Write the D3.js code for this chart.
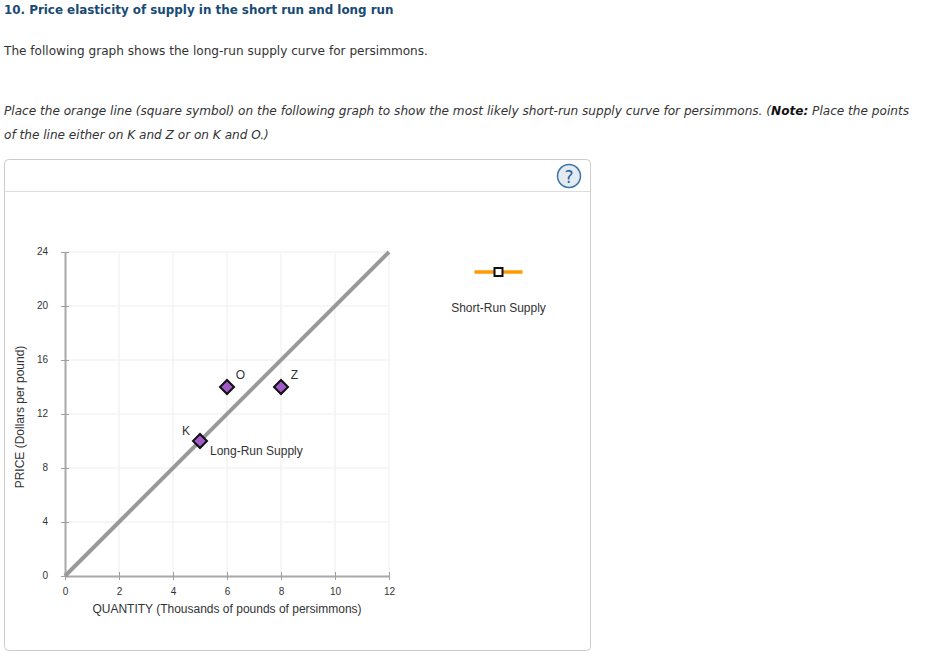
<!DOCTYPE html>
<meta charset="utf-8">
<style>
    html, body { margin: 0; padding: 0; background: #fff; }
    svg { display: block; }
    .page text { font-family: "DejaVu Sans", sans-serif; font-size: 12.1px; fill: #333; }
    .chart text { font-family: "Liberation Sans", sans-serif; fill: #333; }
    .note { font-size: 12px; }
</style>
<body>
<script src="https://d3js.org/d3.v7.min.js"></script>
<script>
    const xTicks = [0, 2, 4, 6, 8, 10, 12]
    const yTicks = [0, 4, 8, 12, 16, 20, 24]
    const longRun = [{q: 0, p: 0}, {q: 12, p: 24}]
    const points = [
        {name: "K", q: 5, p: 10},
        {name: "O", q: 6, p: 14},
        {name: "Z", q: 8, p: 14}
    ]

    const svg = d3.select("body").append("svg")
        .attr("width", 928)
        .attr("height", 658)

    // text above the panel
    const page = svg.append("g").attr("class", "page")

    page.append("text")
        .attr("x", 4).attr("y", 14)
        .style("font-weight", "bold")
        .style("font-size", "11.9px")
        .style("fill", "#174a75")
        .text("10. Price elasticity of supply in the short run and long run")

    page.append("text")
        .attr("x", 4).attr("y", 55)
        .text("The following graph shows the long-run supply curve for persimmons.")

    const line1 = page.append("text")
        .attr("x", 4).attr("y", 115)
        .style("font-style", "italic")
    line1.append("tspan").text("Place the orange line (square symbol) on the following graph to show the most likely short-run supply curve for persimmons. (")
    line1.append("tspan").style("font-weight", "bold").style("fill", "#111").text("Note:")
    line1.append("tspan").text(" Place the points")

    page.append("text")
        .attr("x", 4).attr("y", 139)
        .style("font-style", "italic")
        .text("of the line either on K and Z or on K and O.)")

    // panel
    svg.append("rect")
        .attr("x", 4.5).attr("y", 159.5)
        .attr("width", 586).attr("height", 491)
        .attr("rx", 4)
        .attr("fill", "#fff")
        .attr("stroke", "#ccc")

    svg.append("line")
        .attr("x1", 5).attr("x2", 590)
        .attr("y1", 191.5).attr("y2", 191.5)
        .attr("stroke", "#ddd")

    // help button
    svg.append("circle")
        .attr("cx", 569).attr("cy", 176)
        .attr("r", 11.5)
        .attr("fill", "#e2eaf2")
        .attr("stroke", "#3f73a6")
        .attr("stroke-width", 1.5)

    svg.append("text")
        .attr("x", 569).attr("y", 182.5)
        .attr("text-anchor", "middle")
        .style("font-family", "'DejaVu Sans', sans-serif")
        .style("font-size", "17px")
        .style("fill", "#2f5f92")
        .text("?")

    // chart
    const x = d3.scaleLinear().domain([0, 12]).range([65, 389])
    const y = d3.scaleLinear().domain([0, 24]).range([576, 252])

    const chart = svg.append("g").attr("class", "chart")

    chart.append("g").selectAll("line")
        .data(xTicks.slice(1))
        .join("line")
        .attr("x1", d => x(d)).attr("x2", d => x(d))
        .attr("y1", y(0)).attr("y2", y(24))
        .attr("stroke", "#f3f3f3")
        .attr("stroke-width", 1.5)

    chart.append("g").selectAll("line")
        .data(yTicks.slice(1))
        .join("line")
        .attr("x1", x(0)).attr("x2", x(12))
        .attr("y1", d => y(d)).attr("y2", d => y(d))
        .attr("stroke", "#f3f3f3")
        .attr("stroke-width", 1.5)

    const xAxis = d3.axisBottom(x)
        .tickValues(xTicks)
        .tickSize(5)
        .tickSizeOuter(0)
        .tickPadding(7)

    const yAxis = d3.axisLeft(y)
        .tickValues(yTicks)
        .tickSize(4)
        .tickSizeOuter(0)
        .tickPadding(13)

    const gX = chart.append("g")
        .attr("transform", `translate(0,${y(0)})`)
        .call(xAxis)

    const gY = chart.append("g")
        .attr("transform", `translate(${x(0)},0)`)
        .call(yAxis)

    gX.selectAll(".tick line").attr("y1", -4).attr("y2", 4)
    gY.selectAll(".tick line").attr("x1", -4).attr("x2", 4)

    for (const g of [gX, gY]) {
        g.select(".domain").attr("stroke", "#a8a8a8").attr("stroke-width", 2)
        g.selectAll(".tick line").attr("stroke", "#a0a0a0").attr("stroke-width", 1)
        g.selectAll(".tick text")
            .style("font-family", "'Liberation Sans', sans-serif")
            .style("font-size", "10px")
            .style("fill", "#333")
    }
    gY.selectAll(".tick text").attr("dy", "0.2em")

    chart.append("text")
        .attr("x", 227).attr("y", 612.5)
        .attr("text-anchor", "middle")
        .style("font-size", "12px")
        .text("QUANTITY (Thousands of pounds of persimmons)")

    chart.append("text")
        .attr("transform", "translate(24,417) rotate(-90)")
        .attr("text-anchor", "middle")
        .style("font-size", "12px")
        .text("PRICE (Dollars per pound)")

    // long-run supply
    chart.append("path")
        .datum(longRun)
        .attr("d", d3.line().x(d => x(d.q)).y(d => y(d.p)))
        .attr("fill", "none")
        .attr("stroke", "#999")
        .attr("stroke-width", 4)

    chart.append("text")
        .attr("class", "note")
        .attr("x", 210).attr("y", 455)
        .text("Long-Run Supply")

    // marked points
    chart.append("g").selectAll("path")
        .data(points)
        .join("path")
        .attr("transform", d => `translate(${x(d.q)},${y(d.p)}) rotate(45)`)
        .attr("d", d3.symbol(d3.symbolSquare, 98))
        .attr("fill", "#a259c9")
        .attr("stroke", "#111")
        .attr("stroke-width", 2)

    chart.append("g").selectAll("text")
        .data(points)
        .join("text")
        .attr("class", "note")
        .attr("x", d => x(d.q) + (d.name === "K" ? -14 : 13.5))
        .attr("y", d => y(d.p) + (d.name === "K" ? -6 : -8))
        .attr("text-anchor", "middle")
        .text(d => d.name)

    // legend
    chart.append("line")
        .attr("x1", 474.5).attr("x2", 522.5)
        .attr("y1", 272).attr("y2", 272)
        .attr("stroke", "#ff9a00")
        .attr("stroke-width", 3.5)

    chart.append("rect")
        .attr("x", 494.5).attr("y", 268)
        .attr("width", 8).attr("height", 8)
        .attr("fill", "#fff")
        .attr("stroke", "#111")
        .attr("stroke-width", 2)

    chart.append("text")
        .attr("class", "note")
        .attr("x", 498.5).attr("y", 312)
        .attr("text-anchor", "middle")
        .text("Short-Run Supply")
</script>
</body>
